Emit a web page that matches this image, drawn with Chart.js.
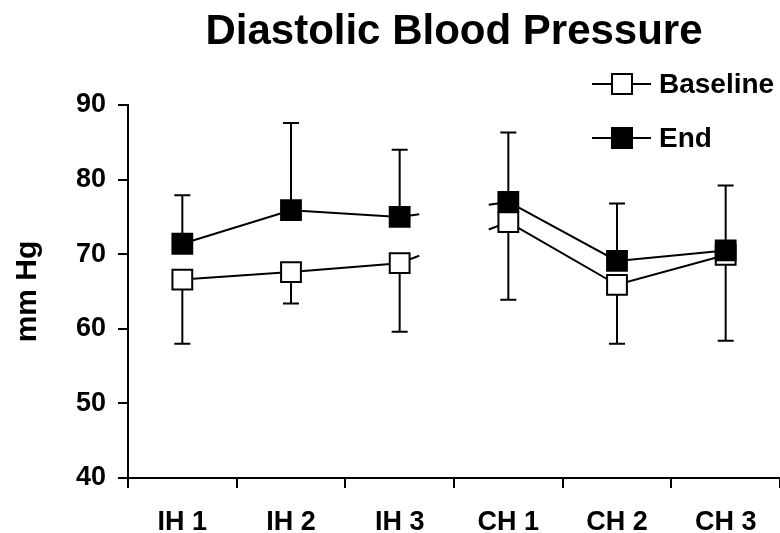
<!DOCTYPE html>
<html><head><meta charset="utf-8">
<script src="https://cdn.jsdelivr.net/npm/chart.js@4"></script>
<style>html,body{margin:0;padding:0;background:#fff;} canvas{display:block;}</style>
</head><body>
<canvas id="c" width="780" height="533"></canvas>
<script>
const categories = ['IH 1','IH 2','IH 3','CH 1','CH 2','CH 3'];
const baselineMean = [66.6, 67.6, 68.8, 74.3, 65.9, 69.9];
const baselineLow  = [58.0, 63.4, 59.6, 63.9, 58.0, 58.4];
const endMean      = [71.4, 75.9, 75.0, 77.0, 69.1, 70.5];
const endHigh      = [77.9, 87.6, 84.0, 86.3, 76.8, 79.2];
const yTicks = [40, 50, 60, 70, 80, 90];
const seriesNames = ['Baseline', 'End'];
const breakAfterIndex = 2;
const FONT = "'Liberation Sans', Arial, sans-serif";

const errorBars = {
  id: 'errorBars',
  beforeDatasetsDraw(chart) {
    const ctx = chart.ctx, y = chart.scales.y;
    chart.data.datasets.forEach((ds, i) => {
      const meta = chart.getDatasetMeta(i);
      ctx.save();
      ctx.strokeStyle = '#000'; ctx.lineWidth = 2;
      meta.data.forEach((pt, j) => {
        const yEnd = y.getPixelForValue(ds.errorEnds[j]);
        ctx.beginPath();
        ctx.moveTo(pt.x, pt.y); ctx.lineTo(pt.x, yEnd);
        ctx.moveTo(pt.x - 8, yEnd); ctx.lineTo(pt.x + 8, yEnd);
        ctx.stroke();
      });
      const a = meta.data[breakAfterIndex], b = meta.data[breakAfterIndex + 1];
      const f = 0.18;
      ctx.beginPath();
      ctx.moveTo(a.x, a.y); ctx.lineTo(a.x + (b.x - a.x) * f, a.y + (b.y - a.y) * f);
      ctx.moveTo(b.x, b.y); ctx.lineTo(b.x - (b.x - a.x) * f, b.y - (b.y - a.y) * f);
      ctx.stroke();
      ctx.restore();
    });
  }
};

const customLegend = {
  id: 'customLegend',
  afterDraw(chart) {
    const ctx = chart.ctx;
    const rows = [84, 138];
    chart.data.datasets.forEach((ds, i) => {
      const cy = rows[i];
      ctx.save();
      ctx.strokeStyle = '#000'; ctx.lineWidth = 2;
      ctx.beginPath(); ctx.moveTo(592, cy); ctx.lineTo(651, cy); ctx.stroke();
      ctx.fillStyle = ds.pointBackgroundColor;
      ctx.fillRect(612, cy - 10, 20, 20);
      ctx.strokeRect(612, cy - 10, 20, 20);
      ctx.fillStyle = '#000';
      ctx.font = "bold 28px " + FONT;
      ctx.textAlign = 'left'; ctx.textBaseline = 'middle';
      ctx.fillText(ds.label, 659, cy + 1);
      ctx.restore();
    });
  }
};

const seg = { borderColor: c => c.p0DataIndex === breakAfterIndex ? 'rgba(0,0,0,0)' : '#000' };

new Chart(document.getElementById('c'), {
  type: 'line',
  data: {
    labels: categories,
    datasets: [
      { label: seriesNames[0], data: baselineMean, errorEnds: baselineLow, order: 1,
        borderColor: '#000', borderWidth: 2, pointStyle: 'rect', pointRadius: 14,
        pointBackgroundColor: '#fff', pointBorderColor: '#000', pointBorderWidth: 2,
        segment: seg, fill: false, tension: 0 },
      { label: seriesNames[1], data: endMean, errorEnds: endHigh, order: 0,
        borderColor: '#000', borderWidth: 2, pointStyle: 'rect', pointRadius: 14,
        pointBackgroundColor: '#000', pointBorderColor: '#000', pointBorderWidth: 2,
        segment: seg, fill: false, tension: 0 }
    ]
  },
  options: {
    responsive: false, animation: false, events: [],
    layout: { padding: 0, autoPadding: false },
    plugins: {
      legend: { display: false }, tooltip: { enabled: false },
      title: { display: true, text: 'Diastolic Blood Pressure', color: '#000', fullSize: false,
        font: { size: 42, weight: 'bold', family: FONT }, padding: { top: 7, bottom: 47.6 } }
    },
    scales: {
      x: { type: 'category', offset: true,
        grid: { offset: true, drawOnChartArea: false, tickLength: 10, color: '#000', lineWidth: 2 },
        border: { color: '#000', width: 2 },
        ticks: { font: { size: 27, weight: 'bold', family: FONT }, color: '#000', padding: 18, maxRotation: 0, autoSkip: false },
        afterFit: s => { s.height = 55; s.paddingLeft = 0; s.paddingRight = 0; } },
      y: { min: 40, max: 90,
        afterBuildTicks: s => { s.ticks = yTicks.map(v => ({ value: v })); },
        grid: { drawOnChartArea: false, tickLength: 10, color: '#000', lineWidth: 2 },
        border: { color: '#000', width: 2 },
        ticks: { font: { size: 27, weight: 'bold', family: FONT }, color: '#000', padding: 12 },
        title: { display: true, text: 'mm Hg', color: '#000', font: { size: 30, weight: 'bold', family: FONT }, padding: { top: 10, bottom: 0 } },
        afterFit: s => { s.width = 128; } }
    }
  },
  plugins: [errorBars, customLegend]
});
</script>
</body></html>
